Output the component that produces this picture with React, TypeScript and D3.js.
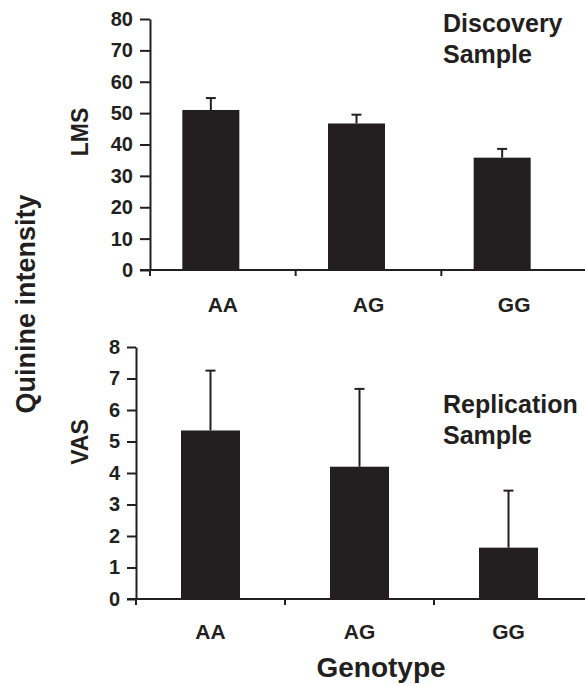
import React, { Component } from "react";
import * as d3 from "d3";

// genotype groups
const genotypes = ["AA", "AG", "GG"];

// discovery sample (LMS)
const lmsMeans = [51, 46.7, 35.8];
const lmsUpper = [54.8, 49.5, 38.6];
const lmsTicks = [0, 10, 20, 30, 40, 50, 60, 70, 80];

// replication sample (VAS)
const vasMeans = [5.35, 4.2, 1.63];
const vasUpper = [7.25, 6.67, 3.44];
const vasTicks = [0, 1, 2, 3, 4, 5, 6, 7, 8];

const INK = "#231f20";
const FONT = "'Liberation Sans', Arial, sans-serif";

class App extends Component {
  svgRef: React.RefObject<SVGSVGElement | null>;

  constructor(props: any) {
    super(props);
    this.svgRef = React.createRef();
  }

  componentDidMount() {
    document.body.style.margin = "0";
    this.renderChart();
  }

  componentDidUpdate() {
    this.renderChart();
  }

  drawPanel = (svg: any, opts: any) => {
    const { means, upper, ticks, yMax, x0, x1, y0, y1, barW, barShift, tickLen, label, labelY, note, noteX, noteY, catY } = opts;

    const xScale = d3.scaleBand().domain(genotypes).range([x0, x1]);
    const yScale = d3.scaleLinear().domain([0, yMax]).range([y0, y1]);

    const g = svg.append("g");

    // bars
    g.selectAll(".bar")
      .data(genotypes)
      .enter()
      .append("rect")
      .attr("x", (d: string) => xScale(d)! + xScale.bandwidth() / 2 + barShift - barW / 2)
      .attr("y", (d: string, i: number) => yScale(means[i]))
      .attr("width", barW)
      .attr("height", (d: string, i: number) => y0 - yScale(means[i]))
      .attr("fill", INK);

    // upper error bars
    genotypes.forEach((d, i) => {
      const cx = xScale(d)! + xScale.bandwidth() / 2 + barShift;
      g.append("line")
        .attr("x1", cx).attr("x2", cx)
        .attr("y1", yScale(means[i])).attr("y2", yScale(upper[i]))
        .attr("stroke", INK).attr("stroke-width", 2);
      g.append("line")
        .attr("x1", cx - 5).attr("x2", cx + 5)
        .attr("y1", yScale(upper[i])).attr("y2", yScale(upper[i]))
        .attr("stroke", INK).attr("stroke-width", 2);
    });

    // y axis
    const yAxis = g.append("g")
      .attr("transform", `translate(${x0},0)`)
      .call(d3.axisLeft(yScale).tickValues(ticks).tickSize(tickLen).tickPadding(7).tickSizeOuter(0));
    yAxis.select(".domain").attr("stroke", INK).attr("stroke-width", 2);
    yAxis.selectAll(".tick line").attr("stroke", INK).attr("stroke-width", 2);
    yAxis.selectAll(".tick text")
      .attr("fill", INK)
      .style("font-family", FONT)
      .style("font-weight", "bold")
      .style("font-size", "20px");

    // x axis with ticks at group boundaries
    const bounds = [x0, x0 + xScale.step(), x0 + 2 * xScale.step()];
    g.append("line")
      .attr("x1", x0 - tickLen).attr("x2", 585)
      .attr("y1", y0).attr("y2", y0)
      .attr("stroke", INK).attr("stroke-width", 2);
    g.selectAll(".xtick")
      .data(bounds)
      .enter()
      .append("line")
      .attr("x1", (d: number) => d).attr("x2", (d: number) => d)
      .attr("y1", y0).attr("y2", y0 + 6)
      .attr("stroke", INK).attr("stroke-width", 2);

    g.selectAll(".cat")
      .data(genotypes)
      .enter()
      .append("text")
      .attr("x", (d: string) => xScale(d)! + xScale.bandwidth() / 2)
      .attr("y", catY)
      .attr("text-anchor", "middle")
      .attr("fill", INK)
      .style("font-family", FONT)
      .style("font-weight", "bold")
      .style("font-size", "21px")
      .text((d: string) => d);

    // axis label
    g.append("text")
      .attr("transform", `translate(88,${labelY}) rotate(-90)`)
      .attr("text-anchor", "middle")
      .attr("fill", INK)
      .style("font-family", FONT)
      .style("font-weight", "bold")
      .style("font-size", "23px")
      .text(label);

    // sample note
    g.append("text")
      .attr("x", noteX)
      .attr("y", noteY)
      .attr("fill", INK)
      .style("font-family", FONT)
      .style("font-weight", "bold")
      .style("font-size", "25px")
      .selectAll("tspan")
      .data(note)
      .enter()
      .append("tspan")
      .attr("x", noteX)
      .attr("dy", (d: string, i: number) => (i === 0 ? 0 : 31))
      .text((d: string) => d);
  };

  renderChart = () => {
    const width = 585,
      height = 686;

    const svg = d3.select(this.svgRef.current)
      .attr("width", width)
      .attr("height", height);
    svg.selectAll("*").remove();

    svg.append("rect").attr("width", width).attr("height", height).attr("fill", "#fff");

    this.drawPanel(svg, {
      means: lmsMeans, upper: lmsUpper, ticks: lmsTicks, yMax: 80,
      x0: 150, x1: 587, y0: 270, y1: 19,
      barW: 57, barShift: -12, tickLen: 10,
      label: "LMS", labelY: 132,
      note: ["Discovery", "Sample"], noteX: 443, noteY: 32,
      catY: 312,
    });

    this.drawPanel(svg, {
      means: vasMeans, upper: vasUpper, ticks: vasTicks, yMax: 8,
      x0: 136, x1: 583, y0: 599, y1: 347,
      barW: 59, barShift: 0, tickLen: 9,
      label: "VAS", labelY: 442,
      note: ["Replication", "Sample"], noteX: 443, noteY: 413,
      catY: 639,
    });

    // shared titles
    svg.append("text")
      .attr("transform", "translate(35,304) rotate(-90)")
      .attr("text-anchor", "middle")
      .attr("fill", INK)
      .style("font-family", FONT)
      .style("font-weight", "bold")
      .style("font-size", "27px")
      .text("Quinine intensity");

    svg.append("text")
      .attr("x", 381)
      .attr("y", 677)
      .attr("text-anchor", "middle")
      .attr("fill", INK)
      .style("font-family", FONT)
      .style("font-weight", "bold")
      .style("font-size", "28px")
      .text("Genotype");
  };

  render() {
    return <svg ref={this.svgRef} style={{ display: "block" }}></svg>;
  }
}

export default App;
